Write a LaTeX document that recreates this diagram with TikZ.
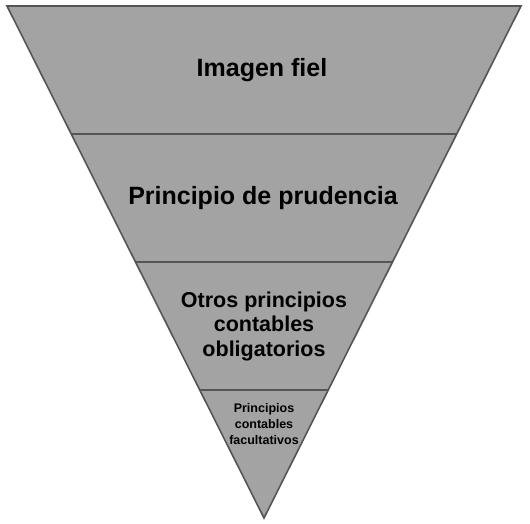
\documentclass[tikz,border=0pt]{standalone}
\usepackage{fontspec}
\setmainfont{Liberation Sans}
\usepackage{tikz}
\definecolor{levelfill}{HTML}{A3A3A3}
\definecolor{leveledge}{HTML}{555555}
\tikzset{
  levelline/.style={draw=leveledge,line width=1.6pt},
  leveltext/.style={align=center,font=\bfseries,text=black,inner sep=0pt}
}

\begin{document}
\begin{tikzpicture}[x=1pt,y=-1pt]
    \useasboundingbox (0,0) rectangle (530,523);
    % outer triangle, point down
    \coordinate (tl) at (7,6);
    \coordinate (tr) at (521,6);
    \coordinate (bt) at (264,518);
    \fill[levelfill] (tl) -- (tr) -- (bt) -- cycle;
    % level borders
    \coordinate (l1) at (71,134);  \coordinate (r1) at (457,134);
    \coordinate (l2) at (135,262); \coordinate (r2) at (393,262);
    \coordinate (l3) at (199,390); \coordinate (r3) at (329,390);
    \draw[levelline] (l1) -- (r1);
    \draw[levelline] (l2) -- (r2);
    \draw[levelline] (l3) -- (r3);
    \draw[levelline,line join=miter] (tl) -- (tr) -- (bt) -- cycle;
    % labels
    \node[leveltext,font=\bfseries\fontsize{25}{30}\selectfont] (fiel) at (262,70) {Imagen fiel};
    \node[leveltext,font=\bfseries\fontsize{25}{30}\selectfont] (prud) at (263,198) {Principio de prudencia};
    \node[leveltext,font=\bfseries\fontsize{21.5}{24.5}\selectfont] (oblig) at (264,326) {Otros principios\\contables\\obligatorios};
    \node[leveltext,font=\bfseries\fontsize{12.5}{16}\selectfont] (facul) at (264,424) {Principios\\contables\\facultativos};
\end{tikzpicture}
\end{document}
